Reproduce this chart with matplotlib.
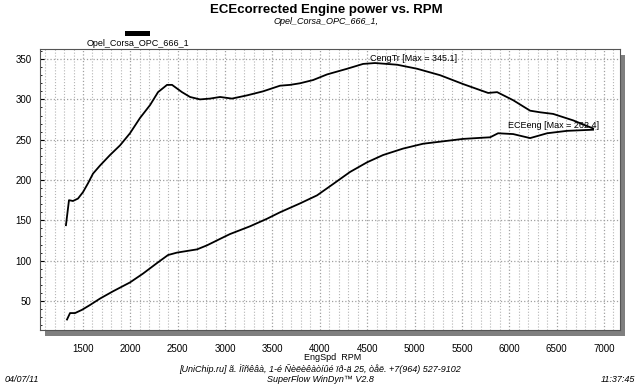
import matplotlib
matplotlib.use('Agg')

import matplotlib.pyplot as plt
from matplotlib.patches import Rectangle
from matplotlib.ticker import MultipleLocator

plt.rcParams['font.family'] = ['Liberation Sans', 'DejaVu Sans']

# CengTr curve (upper)
tr_rpm = [1320, 1352, 1394, 1447, 1500, 1553, 1606, 1680, 1785, 1891, 1996,
          2102, 2208, 2292, 2387, 2440, 2545, 2630, 2735, 2841, 2947, 3073,
          3232, 3401, 3580, 3686, 3791, 3929, 4077, 4288, 4457, 4583, 4816,
          5027, 5270, 5513, 5777, 5872, 6041, 6220, 6326, 6463, 6674, 6885]
tr_val = [144, 175, 174, 177, 185, 196, 208, 218, 231, 243, 258,
          277, 293, 309, 318, 318, 309, 303, 300, 301, 303, 301,
          305, 310, 317, 318, 320, 324, 331, 338, 344, 345.1, 343,
          338, 330, 319, 308, 309, 299, 286, 284, 282, 274, 264]

# ECEeng curve (lower)
eng_rpm = [1331, 1363, 1416, 1489, 1574, 1680, 1817, 1996, 2134, 2281, 2398,
           2493, 2598, 2704, 2809, 2947, 3052, 3263, 3443, 3580, 3791, 3971,
           4140, 4319, 4499, 4668, 4879, 5090, 5301, 5513, 5724, 5798, 5882,
           6041, 6220, 6400, 6611, 6885]
eng_val = [27, 35, 35, 39, 45, 53, 62, 73, 84, 97, 107,
           110, 112, 114, 119, 127, 133, 142.6, 152, 160, 171, 181,
           195, 210, 222, 231, 239, 245, 248, 251, 252.5, 253, 258,
           257, 252, 258, 261, 262.4]

x_ticks = [1500, 2000, 2500, 3000, 3500, 4000, 4500, 5000, 5500, 6000, 6500, 7000]
y_ticks = [50, 100, 150, 200, 250, 300, 350]

W, H = 640, 384
fig = plt.figure(figsize=(6.4, 3.84), dpi=100)

# axes box in pixels: x 40..620, y 49..330 (from top)
ax = fig.add_axes([40 / W, 1 - 330 / H, 580 / W, 281 / H], zorder=2)

# drop shadow right and below the plot box
fig.patches.append(Rectangle((45 / W, 1 - 336 / H), 580 / W, 281 / H,
                             transform=fig.transFigure, facecolor='#7f7f7f',
                             edgecolor='none', zorder=1))

ax.plot(tr_rpm, tr_val, color='black', lw=1.3, zorder=3)
ax.plot(eng_rpm, eng_val, color='black', lw=1.3, zorder=3)

ax.set_xlim(1046, 7169)
ax.set_ylim(14, 362.5)
ax.set_xticks(x_ticks)
ax.set_yticks(y_ticks)
ax.xaxis.set_minor_locator(MultipleLocator(100))
ax.yaxis.set_minor_locator(MultipleLocator(10))

ax.grid(which='minor', axis='x', color='#b5b5b5', ls=':', lw=0.8)
ax.grid(which='major', axis='x', color='#a0a0a0', ls=':', lw=0.9)
ax.grid(which='major', axis='y', color='#a0a0a0', ls=':', lw=0.9)
ax.set_axisbelow(True)

ax.tick_params(axis='x', which='both', length=0, pad=10, labelsize=7)
ax.tick_params(axis='y', which='major', length=3, direction='in', pad=6, labelsize=7)
ax.tick_params(axis='y', which='minor', length=1.5, direction='in')
for s in ax.spines.values():
    s.set_color('#555555')
    s.set_linewidth(0.8)

ax.text(4531, 351, 'CengTr [Max = 345.1]', fontsize=6.5, va='center', ha='left')
ax.text(5988, 268, 'ECEeng [Max = 262.4]', fontsize=6.5, va='center', ha='left')

fig.text(333 / W, 1 - 357 / H, 'EngSpd  RPM', fontsize=6.5,
         ha='center', va='center')

fig.text(326 / W, 1 - 10 / H, 'ECEcorrected Engine power vs. RPM', fontsize=9.5,
         fontweight='bold', ha='center', va='center')
fig.text(326 / W, 1 - 22 / H, 'Opel_Corsa_OPC_666_1,', fontsize=6.5,
         style='italic', ha='center', va='center')

# legend: black bar with series name
fig.patches.append(Rectangle((125 / W, 1 - 36 / H), 25 / W, 5 / H,
                             transform=fig.transFigure, facecolor='black',
                             edgecolor='none'))
fig.text(138 / W, 1 - 43 / H, 'Opel_Corsa_OPC_666_1', fontsize=6.5,
         ha='center', va='center')

fig.text(320 / W, 1 - 369 / H,
         '[UniChip.ru] ã. Ìîñêâà, 1-é Ñèëèêàòíûé ïð-ä 25, òåë. +7(964) 527-9102',
         fontsize=6.5, style='italic', ha='center', va='center')
fig.text(320 / W, 1 - 380 / H, 'SuperFlow WinDyn\u2122 V2.8', fontsize=6.5,
         style='italic', ha='center', va='center')
fig.text(5 / W, 1 - 380 / H, '04/07/11', fontsize=6.5, style='italic',
         ha='left', va='center')
fig.text(635 / W, 1 - 380 / H, '11:37:45', fontsize=6.5, style='italic',
         ha='right', va='center')

fig.savefig('out.png', dpi=100)
plt.close(fig)
